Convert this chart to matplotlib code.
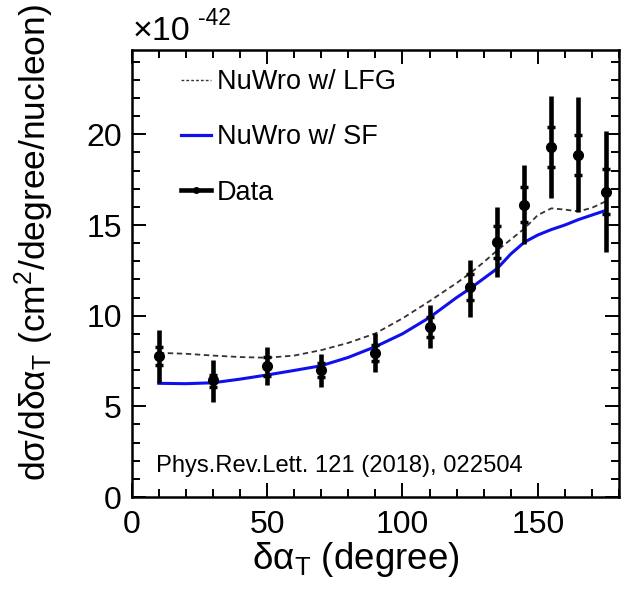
import numpy as np
import matplotlib
matplotlib.use('Agg')
import matplotlib.pyplot as plt
from matplotlib.lines import Line2D
from matplotlib.ticker import MultipleLocator

plt.rcParams['font.family'] = ['Liberation Sans', 'DejaVu Sans']
plt.rcParams['mathtext.fontset'] = 'custom'
plt.rcParams['mathtext.rm'] = 'Liberation Sans'
plt.rcParams['mathtext.it'] = 'Liberation Sans'
plt.rcParams['mathtext.bf'] = 'Liberation Sans:bold'

# data points (units of 1e-42 cm2/degree/nucleon)
data_x = [10, 30, 50, 70, 90, 110, 125, 135, 145, 155, 165, 175]
data_y = [7.78, 6.45, 7.22, 7.0, 7.96, 9.38, 11.56, 14.05, 16.12, 19.32, 18.86, 16.84]
tot_hi = [9.2, 7.56, 8.29, 7.89, 9.06, 10.6, 13.07, 15.98, 18.31, 22.12, 22.05, 20.19]
tot_lo = [6.3, 5.26, 6.18, 6.08, 6.91, 8.2, 9.95, 12.15, 13.94, 16.51, 15.7, 13.5]
stat_hi = [8.3, 6.75, 7.7, 7.4, 8.4, 9.9, 12.3, 14.95, 17.08, 20.42, 19.97, 18.07]
stat_lo = [7.3, 6.05, 6.7, 6.6, 7.5, 8.8, 10.87, 13.2, 15.15, 18.18, 17.76, 15.59]

# NuWro curves
sf_x = [10, 20, 30, 40, 50, 60, 70, 80, 90, 100, 110, 120, 125, 130, 135,
        140, 145, 150, 155, 160, 165, 170, 175]
sf_y = [6.27, 6.25, 6.3, 6.5, 6.73, 6.98, 7.24, 7.7, 8.29, 9.0, 9.9, 11.0,
        11.5, 12.05, 12.6, 13.4, 14.05, 14.45, 14.75, 15.0, 15.3, 15.55, 15.8]
lfg_x = [10, 20, 30, 40, 50, 60, 70, 80, 90, 100, 110, 120, 125, 130, 135,
         140, 145, 150, 155, 160, 165, 170, 175]
lfg_y = [7.95, 7.9, 7.8, 7.72, 7.68, 7.8, 8.1, 8.5, 9.02, 9.85, 10.8, 11.8,
         12.34, 12.95, 13.6, 14.2, 14.8, 15.55, 15.92, 15.85, 15.75, 15.95, 16.3]

fig = plt.figure(figsize=(6.33, 5.9), dpi=100)
ax = fig.add_axes([0.208, 0.1576, 0.770, 0.7576])

ax.plot(lfg_x, lfg_y, color='#333333', lw=1.3, ls=(0, (3, 2)))
ax.plot(sf_x, sf_y, color='#1010ee', lw=2.2)

dx = np.array(data_x)
dy = np.array(data_y)
ax.vlines(dx, tot_lo, tot_hi, color='black', lw=3.3)
ax.errorbar(dx, dy, yerr=[dy - np.array(stat_lo), np.array(stat_hi) - dy],
            fmt='o', color='black', ms=7, elinewidth=0, capsize=2.8, capthick=2.5)

ax.set_xlim(0, 180)
ax.set_ylim(0, 24.65)
ax.xaxis.set_major_locator(MultipleLocator(50))
ax.xaxis.set_minor_locator(MultipleLocator(10))
ax.yaxis.set_major_locator(MultipleLocator(5))
ax.yaxis.set_minor_locator(MultipleLocator(1))
ax.tick_params(which='both', direction='in', top=True, right=True,
               labelsize=23, width=1.4)
ax.tick_params(which='major', length=10)
ax.tick_params(which='minor', length=6)
ax.tick_params(axis='x', which='major', pad=9)
ax.tick_params(axis='y', which='major', pad=7)
for s in ax.spines.values():
    s.set_linewidth(1.8)

ax.set_xlabel(r'$\mathrm{δα}_{\mathrm{T}}$ (degree)', fontsize=26.5)
ax.xaxis.set_label_coords(0.46, -0.097)
ax.set_ylabel(r'd$\mathrm{σ}$/d$\mathrm{δα}_{\mathrm{T}}$ (cm$^{2}$/degree/nucleon)',
              fontsize=25.5)
ax.yaxis.set_label_coords(-0.155, 0.568)

# exponent label above the axis
fig.text(133 / 633, 1 - 40 / 590, '×10', fontsize=24.5, ha='left', va='baseline')
fig.text(198 / 633, 1 - 25 / 590, '-42', fontsize=16.5, ha='left', va='baseline')

ax.text(0.05, 0.069, 'Phys.Rev.Lett. 121 (2018), 022504', transform=ax.transAxes,
        fontsize=17.1, ha='left', va='center')

handles = [
    Line2D([], [], color='#333333', lw=1.0, ls=(0, (2, 1.5))),
    Line2D([], [], color='#1010ee', lw=2.3),
    Line2D([], [], color='black', lw=3.3, marker='o', ms=4),
]
labels = ['NuWro w/ LFG', 'NuWro w/ SF', 'Data']
ax.legend(handles, labels, loc='upper left', bbox_to_anchor=(0.052, 1.012),
          frameon=False, fontsize=19.5, handlelength=1.1, handletextpad=0.2,
          labelspacing=1.08)

fig.savefig('out.png', dpi=100)
